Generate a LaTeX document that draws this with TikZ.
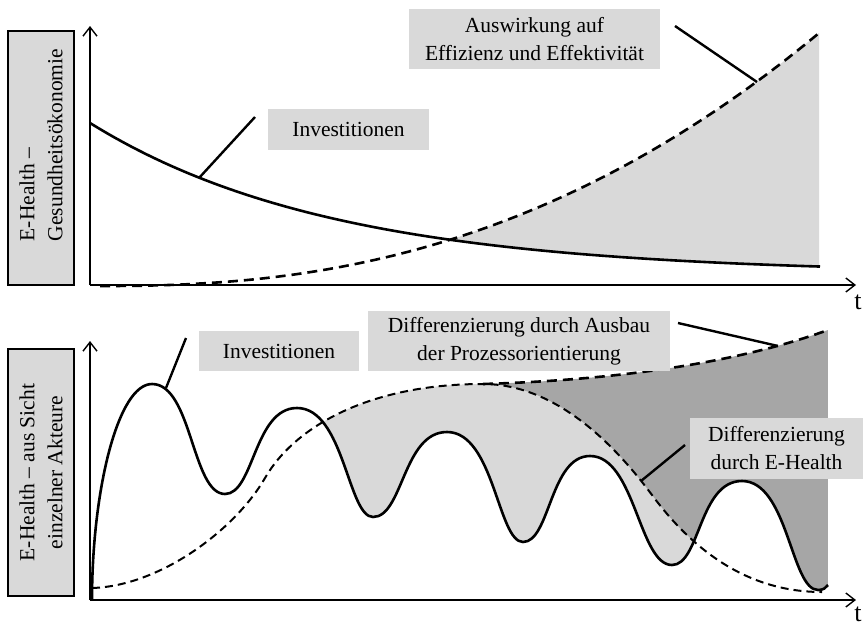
\documentclass[tikz,border=0pt]{standalone}
\usepackage{fontspec}
\setmainfont{Liberation Serif}
\usetikzlibrary{arrows.meta}
\definecolor{boxgray}{HTML}{D9D9D9}
\definecolor{darkfill}{HTML}{A6A6A6}
\newcommand\lbfont{\fontsize{21.5}{28}\selectfont}
\newcommand\tfont{\fontsize{26}{30}\selectfont}
\newcommand\topsolidpath{plot[domain=90:820,samples=90] (\x,{274-151*exp(-0.00412*(\x-90))})}
\newcommand\topdashpath{(100,286) -- plot[domain=101:819,samples=90] (\x,{286-253*((\x-100)/719)^2.36})}
\newcommand\botsolidpath{(92,600) .. controls (92,490) and (118,384) .. (152,384) .. controls (192,384) and (192,494) .. (225,494) .. controls (254,494) and (254,408) .. (297,408) .. controls (344,408) and (348,517) .. (373,517) .. controls (403,517) and (403,432) .. (447,432) .. controls (494,432) and (498,542) .. (523,542) .. controls (550,542) and (550,456) .. (590,456) .. controls (635,456) and (639,565) .. (672,565) .. controls (700,565) and (699,481) .. (742,481) .. controls (788,481) and (791,590) .. (818,590) .. controls (823,590) and (826,588) .. (828,585)}
\newcommand\botdashApath{(92,588) .. controls (160,586) and (235,530) .. (265,478) .. controls (295,426) and (370,384) .. (483,384) .. controls (560,384) and (620,452) .. (652,495) .. controls (695,553) and (750,592) .. (822,592)}
\newcommand\botdashBpath{(483,384) .. controls (620,380) and (740,362) .. (828,330)}
\begin{document}
\begin{tikzpicture}[x=1pt,y=-1pt,
  lab/.style={fill=boxgray, inner sep=0pt, align=center, font=\lbfont},
  side/.style={lab, draw=black, line width=1.5pt, rotate=90},
  curve/.style={line width=2.6pt, line join=round},
  dcurve/.style={line width=2.6pt, dash pattern=on 10pt off 6pt},
  dcurvethin/.style={line width=2pt, dash pattern=on 8pt off 5pt},
  axis/.style={line width=1.4pt, -{Straight Barb[length=9pt,width=14pt,line width=1.4pt]}},
  leader/.style={line width=2.4pt},
  tlabel/.style={font=\tfont, inner sep=0pt}]
\useasboundingbox (0,0) rectangle (864,627);

% ---- fills, top panel
\begin{scope}
  \clip \topdashpath -- (819,300) -- (100,300) -- cycle;
  \fill[boxgray] \topsolidpath -- (820,20) -- (90,20) -- cycle;
\end{scope}
% ---- fills, bottom panel
\begin{scope}
  \clip \botdashApath -- (822,615) -- (92,615) -- cycle;
  \fill[boxgray] \botsolidpath -- (828,300) -- (92,300) -- cycle;
\end{scope}
\begin{scope}
  \clip \botsolidpath -- (828,300) -- (92,300) -- cycle;
  \clip \botdashApath -- (840,592) -- (840,300) -- (92,300) -- cycle;
  \fill[darkfill] \botdashBpath -- (828,615) -- (483,615) -- cycle;
\end{scope}

% ---- curves
\draw[curve] \topsolidpath;
\draw[dcurve] \topdashpath;
\draw[curve] \botsolidpath;
\draw[dcurvethin] \botdashApath;
\draw[dcurve] \botdashBpath;

% ---- axes
\coordinate (o1) at (90,285);
\coordinate (y1) at (90,26);
\coordinate (x1) at (856,285);
\coordinate (o2) at (90,600);
\coordinate (y2) at (90,341);
\coordinate (x2) at (856,600);
\draw[axis] (o1) -- (y1);
\draw[axis] (o1) -- (x1);
\draw[axis] (o2) -- (y2);
\draw[axis] (o2) -- (x2);
\node[tlabel] (t1) at (858,302) {t};
\node[tlabel] (t2) at (858,614) {t};

% ---- labels
\node[side, minimum width=254pt, minimum height=66pt] (sideA) at (41,158) {};
\node[font=\lbfont, rotate=90, align=left, inner sep=0pt] (sideAtext) at (41,145) {E-Health –\\Gesundheitsökonomie};
\node[side, minimum width=247pt, minimum height=66pt] (sideB) at (41,472.5) {E-Health – aus Sicht\\einzelner Akteure};
\node[lab, minimum width=161pt, minimum height=41pt] (topinv) at (348.5,129.5) {Investitionen};
\node[lab, minimum width=251pt, minimum height=60pt] (topaus) at (534.5,39) {Auswirkung auf\\Effizienz und Effektivität};
\node[lab, minimum width=160pt, minimum height=40pt] (botinv) at (279,351) {Investitionen};
\node[lab, minimum width=302pt, minimum height=60pt] (botdiff) at (519,341) {Differenzierung durch Ausbau\\der Prozessorientierung};
\node[lab, minimum width=173pt, minimum height=61pt] (botehl) at (776.5,448.5) {Differenzierung\\durch E-Health};

% ---- leader lines
\coordinate (la1) at (255,117);
\coordinate (la2) at (199,178);
\coordinate (lb1) at (675,26);
\coordinate (lb2) at (757,82);
\coordinate (lc1) at (186,338);
\coordinate (lc2) at (166,388);
\coordinate (ld1) at (678,323);
\coordinate (ld2) at (778,346);
\coordinate (le1) at (685,445);
\coordinate (le2) at (641,481);
\draw[leader] (la1) -- (la2);
\draw[leader] (lb1) -- (lb2);
\draw[leader] (lc1) -- (lc2);
\draw[leader] (ld1) -- (ld2);
\draw[leader] (le1) -- (le2);
\end{tikzpicture}
\end{document}
